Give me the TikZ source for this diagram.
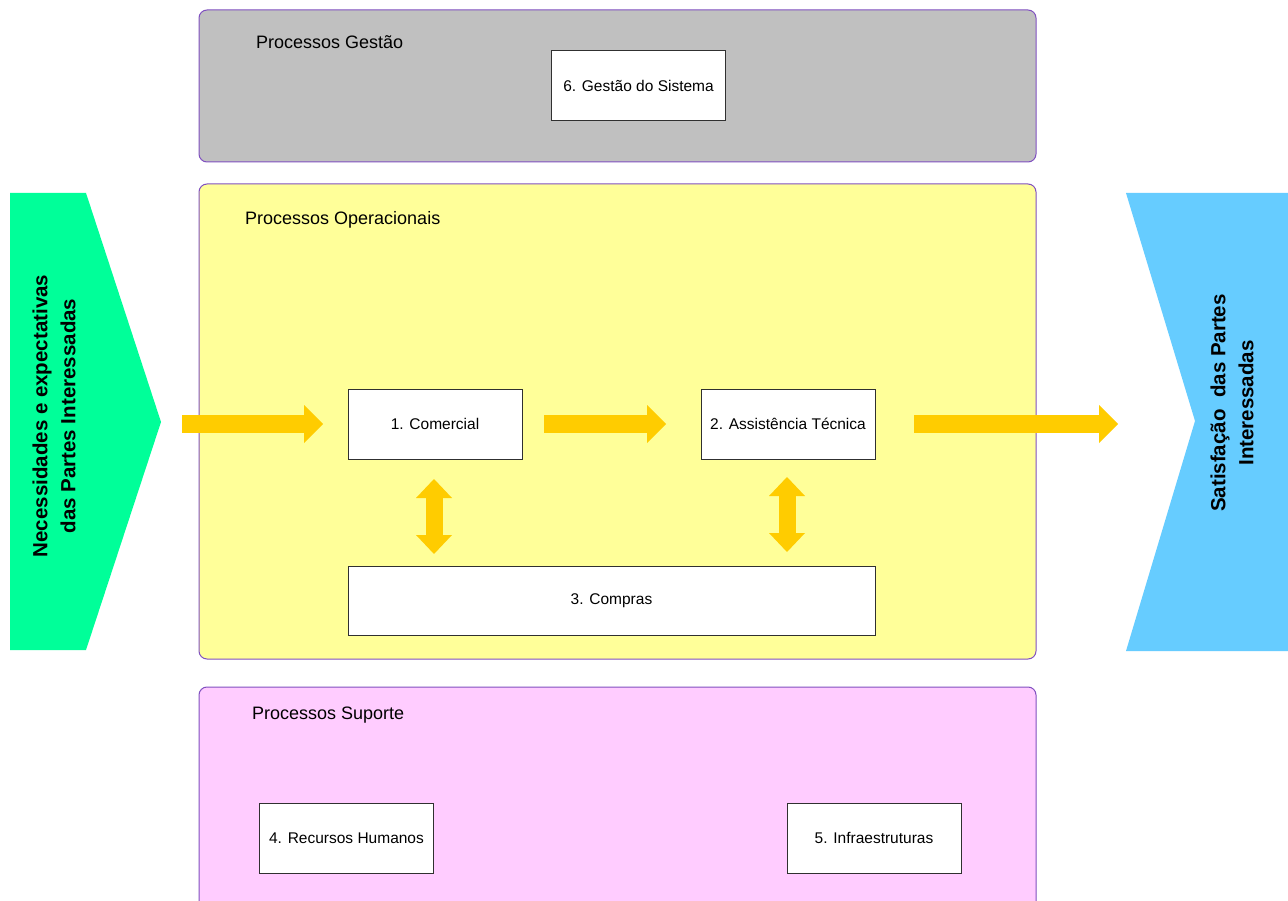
\documentclass[tikz,border=0pt]{standalone}
\usepackage{fontspec}
\setmainfont{Liberation Sans}
\usetikzlibrary{arrows.meta}

\definecolor{panelline}{HTML}{8050C0}
\definecolor{gestaofill}{HTML}{C0C0C0}
\definecolor{operfill}{HTML}{FFFF99}
\definecolor{suportefill}{HTML}{FFCCFF}
\definecolor{needfill}{HTML}{00FF99}
\definecolor{satfill}{HTML}{66CCFF}
\definecolor{flowyel}{HTML}{FFCC00}
\definecolor{boxline}{HTML}{303030}

\tikzset{
  panel/.style={draw=panelline, line width=1pt, rounded corners=8pt,
    anchor=north west, inner sep=0pt, outer sep=0pt},
  paneltitle/.style={anchor=west, inner sep=0pt,
    font=\fontsize{18}{21}\selectfont},
  procbox/.style={draw=boxline, fill=white, line width=1pt, inner sep=0pt,
    outer sep=0pt, minimum width=174pt, minimum height=70pt,
    font=\fontsize{15.5}{18}\selectfont},
  sidetext/.style={rotate=90, align=center, inner sep=0pt,
    font=\fontsize{20.5}{28}\selectfont\bfseries},
  fatflow/.style={draw=flowyel, line width=18pt,
    -{Triangle[length=19pt,width=38pt,line width=0pt]}},
  twoway/.style={draw=flowyel, line width=17pt,
    {Triangle[length=19pt,width=36pt,line width=0pt]}-{Triangle[length=19pt,width=36pt,line width=0pt]}}
}

\begin{document}
\begin{tikzpicture}[x=1pt,y=-1pt]
\useasboundingbox (0,0) rectangle (1288,901);
\clip (0,0) rectangle (1288,901);
\fill[white] (0,0) rectangle (1288,901);

% process groups
\node[panel, fill=gestaofill, minimum width=837pt, minimum height=152pt] (gestao) at (199,10) {};
\node[panel, fill=operfill, minimum width=837pt, minimum height=475pt] (oper) at (199,184) {};
\node[panel, fill=suportefill, minimum width=837pt, minimum height=240pt] (suporte) at (199,687) {};

\node[paneltitle] (tgestao) at (256,42) {Processos Gestão};
\node[paneltitle] (toper) at (245,220) {Processos Operacionais};
\node[paneltitle] (tsuporte) at (252,715) {Processos Suporte};

% input and output chevrons
\fill[needfill] (10,193) -- (86,193) -- (161,422) -- (86,650) -- (10,650) -- cycle;
\coordinate (needtip) at (161,422);
\node[sidetext] (needs) at (54,416) {Necessidades e expectativas\\das Partes Interessadas};

\fill[satfill] (1126,193) -- (1288,193) -- (1288,651) -- (1126,651) -- (1195,421) -- cycle;
\coordinate (sattip) at (1195,421);
\node[sidetext] (sat) at (1232,403) {Satisfação\ \ das Partes\\Interessadas};

% processes
\node[procbox] (p6) at (638.5,86) {6. Gestão do Sistema};
\node[procbox] (p1) at (435,424) {1. Comercial};
\node[procbox] (p2) at (788,424) {2. Assistência Técnica};
\node[procbox, minimum width=527pt, minimum height=69pt] (p3) at (611.5,600.5) {3. Compras};
\node[procbox] (p4) at (346.5,838) {4. Recursos Humanos};
\node[procbox] (p5) at (874,838) {5. Infraestruturas};

% flows
\draw[fatflow, shorten <=21pt, shorten >=25pt] (p1.west -| needtip) -- (p1.west);
\draw[fatflow, shorten <=22pt, shorten >=35pt] (p1.east) -- (p2.west);
\draw[fatflow, shorten <=39pt, shorten >=77pt] (p2.east) -- (p2.east -| sattip);
\draw[twoway, shorten <=20pt, shorten >=12pt] ([xshift=-1pt]p1.south) -- ([xshift=-1pt]p1.south |- p3.north);
\draw[twoway, shorten <=18pt, shorten >=14pt] ([xshift=-1pt]p2.south) -- ([xshift=-1pt]p2.south |- p3.north);
\end{tikzpicture}
\end{document}
